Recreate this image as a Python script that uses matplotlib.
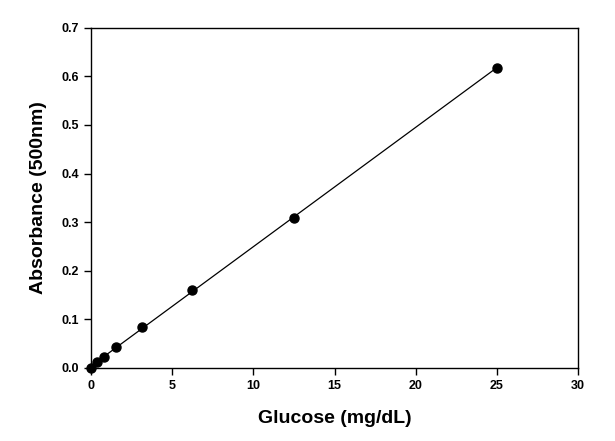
import numpy as np
import matplotlib.pyplot as plt

plt.rcParams['font.family'] = ['Liberation Sans', 'DejaVu Sans']

# Glucose standards (mg/dL) and absorbance at 500 nm
glucose = [0, 0.39, 0.78, 1.5625, 3.125, 6.25, 12.5, 25]
absorbance = [0.0, 0.012, 0.022, 0.043, 0.084, 0.161, 0.308, 0.618]

# linear fit for the standard curve
slope, intercept = np.polyfit(glucose, absorbance, 1)
fit_x = np.array([min(glucose), max(glucose)])
fit_y = slope * fit_x + intercept

fig = plt.figure(figsize=(6.15, 4.41), dpi=100)
ax = fig.add_axes([0.148, 0.166, 0.792, 0.771])

ax.plot(fit_x, fit_y, color='black', linewidth=0.9, clip_on=False)
ax.plot(glucose, absorbance, 'o', color='black', markersize=6.5, clip_on=False, zorder=3)

ax.set_xlim(0, 30)
ax.set_ylim(0, 0.7)
ax.set_xticks([0, 5, 10, 15, 20, 25, 30])
ax.set_yticks(np.arange(0, 0.71, 0.1))
ax.set_yticklabels(['%.1f' % v for v in np.arange(0, 0.71, 0.1)])

ax.tick_params(direction='out', length=5, width=1, labelsize=9, top=False, right=False)
for lab in ax.get_xticklabels() + ax.get_yticklabels():
    lab.set_fontweight('bold')
for s in ax.spines.values():
    s.set_linewidth(1)

ax.set_xlabel('Glucose (mg/dL)', fontsize=14, fontweight='bold', va='center')
ax.set_ylabel('Absorbance (500nm)', fontsize=14, fontweight='bold', va='center')
ax.xaxis.set_label_coords(0.5, -0.15)
ax.yaxis.set_label_coords(-0.108, 0.5)

fig.savefig('out.png', dpi=100)
